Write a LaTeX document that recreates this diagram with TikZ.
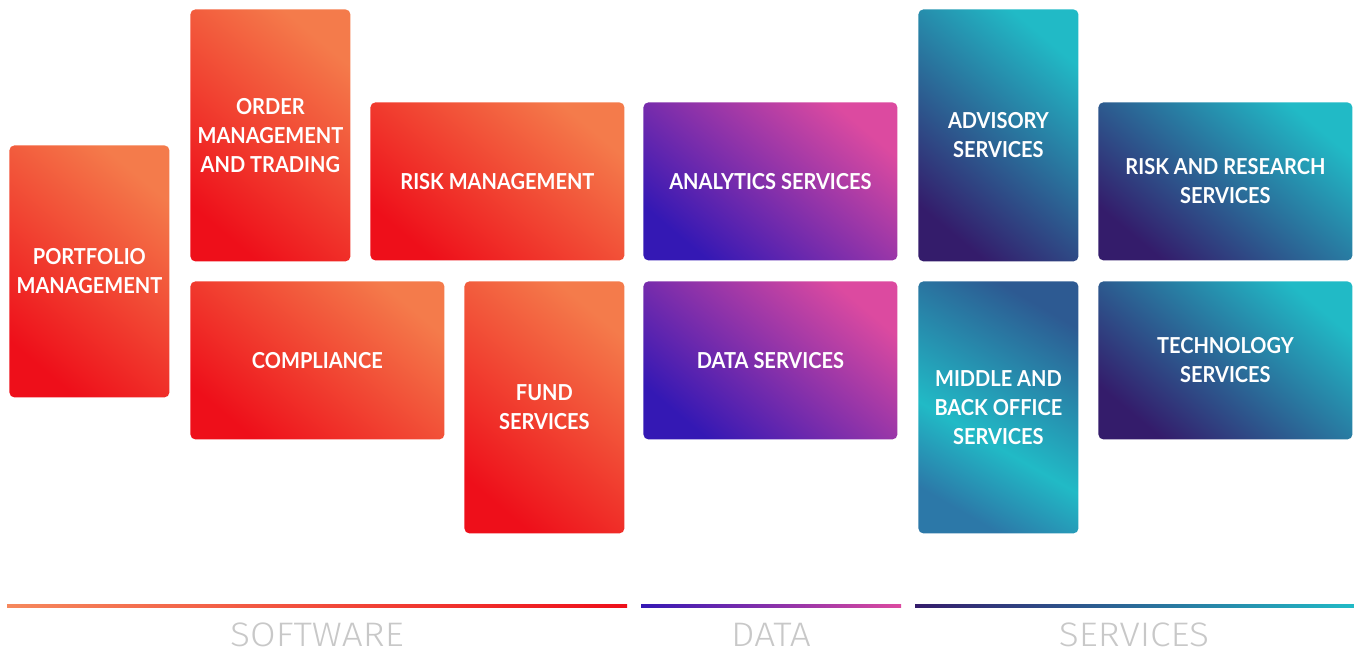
\documentclass[tikz,border=0pt]{standalone}
\usepackage{fontspec}
\setmainfont{Lato}
\newfontfamily\boxfont{Lato}[FakeStretch=0.91]
\newfontfamily\labelfont{Fira Sans Light}[FakeStretch=1.09]
\definecolor{swlight}{HTML}{F47B4B}
\definecolor{swdark}{HTML}{EE0F1A}
\definecolor{dalight}{HTML}{DC4AA0}
\definecolor{dadark}{HTML}{3418B4}
\definecolor{svlight}{HTML}{21BAC6}
\definecolor{svdark}{HTML}{341C6B}
\definecolor{svmid}{HTML}{2D5A92}
\definecolor{svblue}{HTML}{2C78A8}
\definecolor{labelgray}{HTML}{C8C8C8}
\pgfdeclareverticalshading{officeshade}{100bp}{color(0bp)=(svblue); color(25bp)=(svblue);
  color(42bp)=(svlight); color(75bp)=(svmid); color(100bp)=(svmid)}
\tikzset{
  box/.style={anchor=north west, rounded corners=2.5pt, align=center, text=white,
    font=\boxfont\bfseries\fontsize{11}{14.5}\selectfont, inner sep=0pt},
  tall/.style={box, minimum width=80pt, minimum height=126pt},
  wide/.style={box, minimum width=127pt, minimum height=79pt},
  software/.style={top color=swlight, bottom color=swdark, shading angle=-40},
  data/.style={top color=dalight, bottom color=dadark, shading angle=-40},
  services/.style={top color=svlight, bottom color=svdark, shading angle=-40},
  group/.style={text=labelgray, inner sep=0pt, font=\labelfont\fontsize{17}{17}\selectfont}
}
\begin{document}
\begin{tikzpicture}[x=0.5pt, y=-0.5pt]
        \useasboundingbox (0,0) rectangle (1354,651);
        % software
        \node[tall, software] (portfolio) at (9,145) {PORTFOLIO\\MANAGEMENT};
        \node[tall, software] (order) at (190,9) {ORDER\\MANAGEMENT\\AND TRADING};
        \node[wide, software] (risk) at (370,102) {RISK MANAGEMENT};
        \node[wide, software] (compliance) at (190,281) {COMPLIANCE};
        \node[tall, software] (fund) at (464,281) {FUND\\SERVICES};
        % data
        \node[wide, data] (analytics) at (643,102) {ANALYTICS SERVICES};
        \node[wide, data] (dataserv) at (643,281) {DATA SERVICES};
        % services
        \node[tall, services] (advisory) at (918,9) {ADVISORY\\SERVICES};
        \node[wide, services] (research) at (1098,102) {RISK AND RESEARCH\\SERVICES};
        \node[tall, shading=officeshade, shading angle=-30] (office) at (918,281) {MIDDLE AND\\BACK OFFICE\\SERVICES};
        \node[wide, services] (technology) at (1098,281) {TECHNOLOGY\\SERVICES};
        % group lines and labels
        \shade[left color=swlight!90!white, right color=swdark] (7,604.5) rectangle (627,607.5);
        \shade[left color=dadark, right color=dalight] (641,604.5) rectangle (901,607.5);
        \shade[left color=svdark, right color=svlight] (915,604.5) rectangle (1354,607.5);
        \node[group] (swlabel) at (317,635) {SOFTWARE};
        \node[group] (dalabel) at (771,635) {DATA};
        \node[group] (svlabel) at (1134,635) {SERVICES};
\end{tikzpicture}
\end{document}
